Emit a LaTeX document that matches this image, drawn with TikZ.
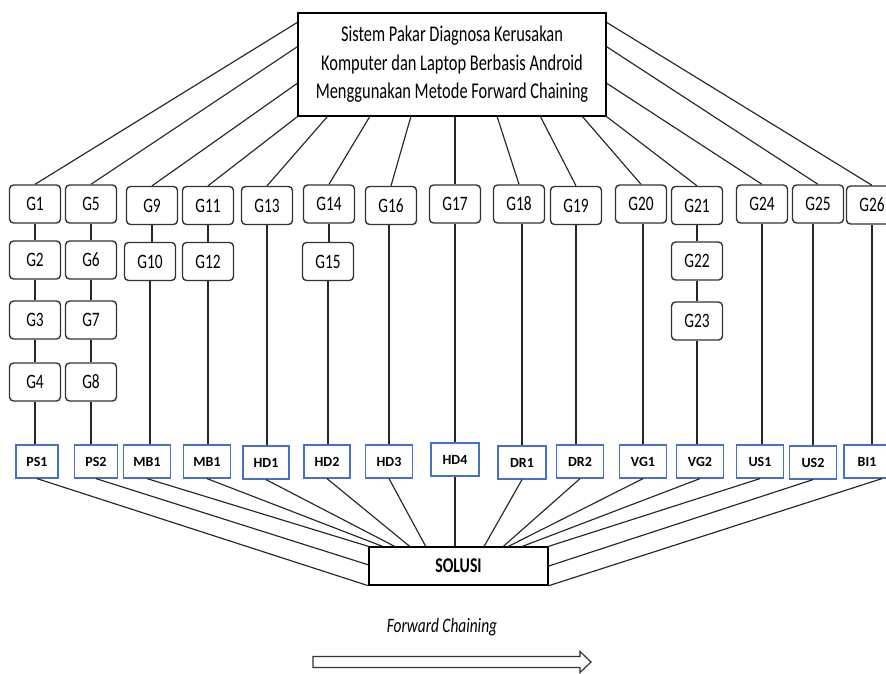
\documentclass[tikz,border=0pt]{standalone}
\usepackage{fontspec}
\usepackage{graphicx}
\setmainfont{Carlito}
\usetikzlibrary{calc}
\definecolor{sblue}{RGB}{68,114,196}
\newcommand{\sq}[1]{\scalebox{0.75}[1]{#1}}
\tikzset{
  conn/.style={draw=black!85, line width=1.15pt},
  tbox/.style={draw=black, line width=1.4pt, minimum width=308pt, minimum height=103pt, inner sep=0pt, font=\fontsize{22.5}{28.5}\selectfont},
  gbox/.style={draw=black!80, line width=1.4pt, rounded corners=4pt, minimum width=51pt, minimum height=38pt, inner sep=0pt, font=\fontsize{20.5}{20.5}\selectfont},
  sbox/.style={draw=sblue, line width=1.2pt, minimum width=45pt, minimum height=33pt, inner sep=0pt, font=\bfseries\fontsize{14}{14}\selectfont},
  solbox/.style={draw=black, line width=1.4pt, minimum width=179pt, minimum height=38pt, inner sep=0pt, font=\bfseries\fontsize{21}{21}\selectfont},
  fctext/.style={font=\itshape\fontsize{20.5}{20.5}\selectfont, inner sep=0pt},
  bigarrow/.style={draw=black!80, line width=1.2pt, fill=white},
}
\begin{document}
\begin{tikzpicture}[x=1pt,y=-1pt]
\useasboundingbox (0,0) rectangle (886,673);
\fill[white] (0,0) rectangle (886,673);
\clip (0,0) rectangle (886,673);

% top box
\node[tbox] (T) at (452,64.5) {\scalebox{0.73}[1]{\begin{tabular}{@{}c@{}}Sistem Pakar Diagnosa Kerusakan\\Komputer dan Laptop Berbasis Android\\Menggunakan Metode Forward Chaining\end{tabular}}};

% G nodes
\node[gbox] (G1) at (35,204) {\sq{G1}};
\node[gbox] (G2) at (35,260) {\sq{G2}};
\node[gbox] (G3) at (35,320) {\sq{G3}};
\node[gbox] (G4) at (35,382) {\sq{G4}};
\node[gbox] (G5) at (91,204) {\sq{G5}};
\node[gbox] (G6) at (91,260) {\sq{G6}};
\node[gbox] (G7) at (91,320) {\sq{G7}};
\node[gbox] (G8) at (91,382) {\sq{G8}};
\node[gbox] (G9) at (152,205.5) {\sq{G9}};
\node[gbox] (G10) at (150,261.5) {\sq{G10}};
\node[gbox] (G11) at (208,205.5) {\sq{G11}};
\node[gbox] (G12) at (208,261.5) {\sq{G12}};
\node[gbox] (G13) at (267,205.5) {\sq{G13}};
\node[gbox] (G14) at (329,204) {\sq{G14}};
\node[gbox] (G15) at (328,261.5) {\sq{G15}};
\node[gbox] (G16) at (391,205.5) {\sq{G16}};
\node[gbox] (G17) at (455,204) {\sq{G17}};
\node[gbox] (G18) at (519,204) {\sq{G18}};
\node[gbox] (G19) at (576,205.5) {\sq{G19}};
\node[gbox] (G20) at (641,204) {\sq{G20}};
\node[gbox] (G21) at (697,205.5) {\sq{G21}};
\node[gbox] (G22) at (697,261) {\sq{G22}};
\node[gbox] (G23) at (697,321) {\sq{G23}};
\node[gbox] (G24) at (762,204) {\sq{G24}};
\node[gbox] (G25) at (818,204) {\sq{G25}};
\node[gbox] (G26) at (872,205) {\sq{G26}};

% solution boxes
\node[sbox, minimum width=42pt] (PS1) at (37,461.5) {PS1};
\node[sbox, minimum width=43pt] (PS2) at (96,461.5) {PS2};
\node[sbox, minimum width=47pt] (MB1a) at (147,461.5) {MB1};
\node[sbox, minimum width=47pt] (MB1b) at (207,461.5) {MB1};
\node[sbox, minimum width=46pt] (HD1) at (266,462.5) {HD1};
\node[sbox, minimum width=46pt] (HD2) at (327,461.5) {HD2};
\node[sbox, minimum width=47pt] (HD3) at (389,461.5) {HD3};
\node[sbox, minimum width=48pt] (HD4) at (455,459.5) {HD4};
\node[sbox, minimum width=48pt] (DR1) at (522,462.5) {DR1};
\node[sbox, minimum width=47pt] (DR2) at (580,461.5) {DR2};
\node[sbox, minimum width=47pt] (VG1) at (643,461.5) {VG1};
\node[sbox, minimum width=47pt] (VG2) at (700,461.5) {VG2};
\node[sbox, minimum width=47pt] (US1) at (760,461.5) {US1};
\node[sbox, minimum width=47pt] (US2) at (813,462.5) {US2};
\node[sbox, minimum width=46pt] (BI1) at (867,461.5) {BI1};

% SOLUSI
\node[solbox] (SOL) at (458.5,566) {\sq{SOLUSI}};

% Forward chaining
\node[fctext] (FC) at (442,627) {\sq{Forward Chaining}};
\draw[bigarrow] (313,656.5) -- (580,656.5) -- (580,651.5) -- (591,662) -- (580,672.5) -- (580,667.5) -- (313,667.5) -- cycle;

% top box to G row
\draw[conn] ($(T.north west)!0.097!(T.south west)$) -- (G1.north);
\draw[conn] ($(T.north west)!0.33!(T.south west)$) -- (G5.north);
\draw[conn] ($(T.north west)!0.68!(T.south west)$) -- (G9.north);
\draw[conn] (T.south west) -- (G11.north);
\draw[conn] ($(T.south west)!0.097!(T.south east)$) -- (G13.north);
\draw[conn] ($(T.south west)!0.234!(T.south east)$) -- (G14.north);
\draw[conn] ($(T.south west)!0.367!(T.south east)$) -- (G16.north);
\draw[conn] (G17.north) -- (G17.north |- T.south);
\draw[conn] ($(T.south west)!0.646!(T.south east)$) -- (G18.north);
\draw[conn] ($(T.south west)!0.786!(T.south east)$) -- (G19.north);
\draw[conn] ($(T.south west)!0.922!(T.south east)$) -- (G20.north);
\draw[conn] (T.south east) -- (G21.north);
\draw[conn] ($(T.north east)!0.68!(T.south east)$) -- (G24.north);
\draw[conn] ($(T.north east)!0.33!(T.south east)$) -- (G25.north);
\draw[conn] ($(T.north east)!0.097!(T.south east)$) -- (G26.north);

% chains
\draw[conn] (G1.south) -- (G2.north);
\draw[conn] (G2.south) -- (G3.north);
\draw[conn] (G3.south) -- (G4.north);
\draw[conn] (G5.south) -- (G6.north);
\draw[conn] (G6.south) -- (G7.north);
\draw[conn] (G7.south) -- (G8.north);
\draw[conn] (G9.south) -- (G9.south |- G10.north);
\draw[conn] (G11.south) -- (G12.north);
\draw[conn] (G14.south) -- (G14.south |- G15.north);
\draw[conn] (G21.south) -- (G22.north);
\draw[conn] (G22.south) -- (G23.north);

% G to solution
\draw[conn] (G4.south) -- (G4.south |- PS1.north);
\draw[conn] (G8.south) -- (G8.south |- PS2.north);
\draw[conn] (G10.south) -- (G10.south |- MB1a.north);
\draw[conn] (G12.south) -- (G12.south |- MB1b.north);
\draw[conn] (G13.south) -- (G13.south |- HD1.north);
\draw[conn] (G15.south) -- (G15.south |- HD2.north);
\draw[conn] (HD3.north) -- (HD3.north |- G16.south);
\draw[conn] (G17.south) -- (G17.south |- HD4.north);
\draw[conn] (DR1.north) -- (DR1.north |- G18.south);
\draw[conn] (G19.south) -- (G19.south |- DR2.north);
\draw[conn] (VG1.north) -- (VG1.north |- G20.south);
\draw[conn] (G23.south) -- (G23.south |- VG2.north);
\draw[conn] (G24.south) -- (G24.south |- US1.north);
\draw[conn] (US2.north) -- (US2.north |- G25.south);
\draw[conn] (G26.south) -- (G26.south |- BI1.north);

% solution to SOLUSI
\draw[conn] (PS1.south) -- (SOL.south west);
\draw[conn] (PS2.south) -- ($(SOL.north west)!0.47!(SOL.south west)$);
\draw[conn] (MB1a.south) -- (SOL.north west);
\draw[conn] (MB1b.south) -- ($(SOL.north west)!0.078!(SOL.north east)$);
\draw[conn] (HD1.south) -- ($(SOL.north west)!0.145!(SOL.north east)$);
\draw[conn] (HD2.south) -- ($(SOL.north west)!0.229!(SOL.north east)$);
\draw[conn] (HD3.south) -- ($(SOL.north west)!0.318!(SOL.north east)$);
\draw[conn] (HD4.south) -- (HD4.south |- SOL.north);
\draw[conn] (DR1.south) -- ($(SOL.north west)!0.642!(SOL.north east)$);
\draw[conn] (DR2.south) -- ($(SOL.north west)!0.749!(SOL.north east)$);
\draw[conn] (VG1.south) -- ($(SOL.north west)!0.777!(SOL.north east)$);
\draw[conn] (VG2.south) -- ($(SOL.north west)!0.855!(SOL.north east)$);
\draw[conn] (US1.south) -- (SOL.north east);
\draw[conn] (US2.south) -- ($(SOL.north east)!0.5!(SOL.south east)$);
\draw[conn] ([xshift=15pt]BI1.south) -- (SOL.south east);
\end{tikzpicture}
\end{document}
